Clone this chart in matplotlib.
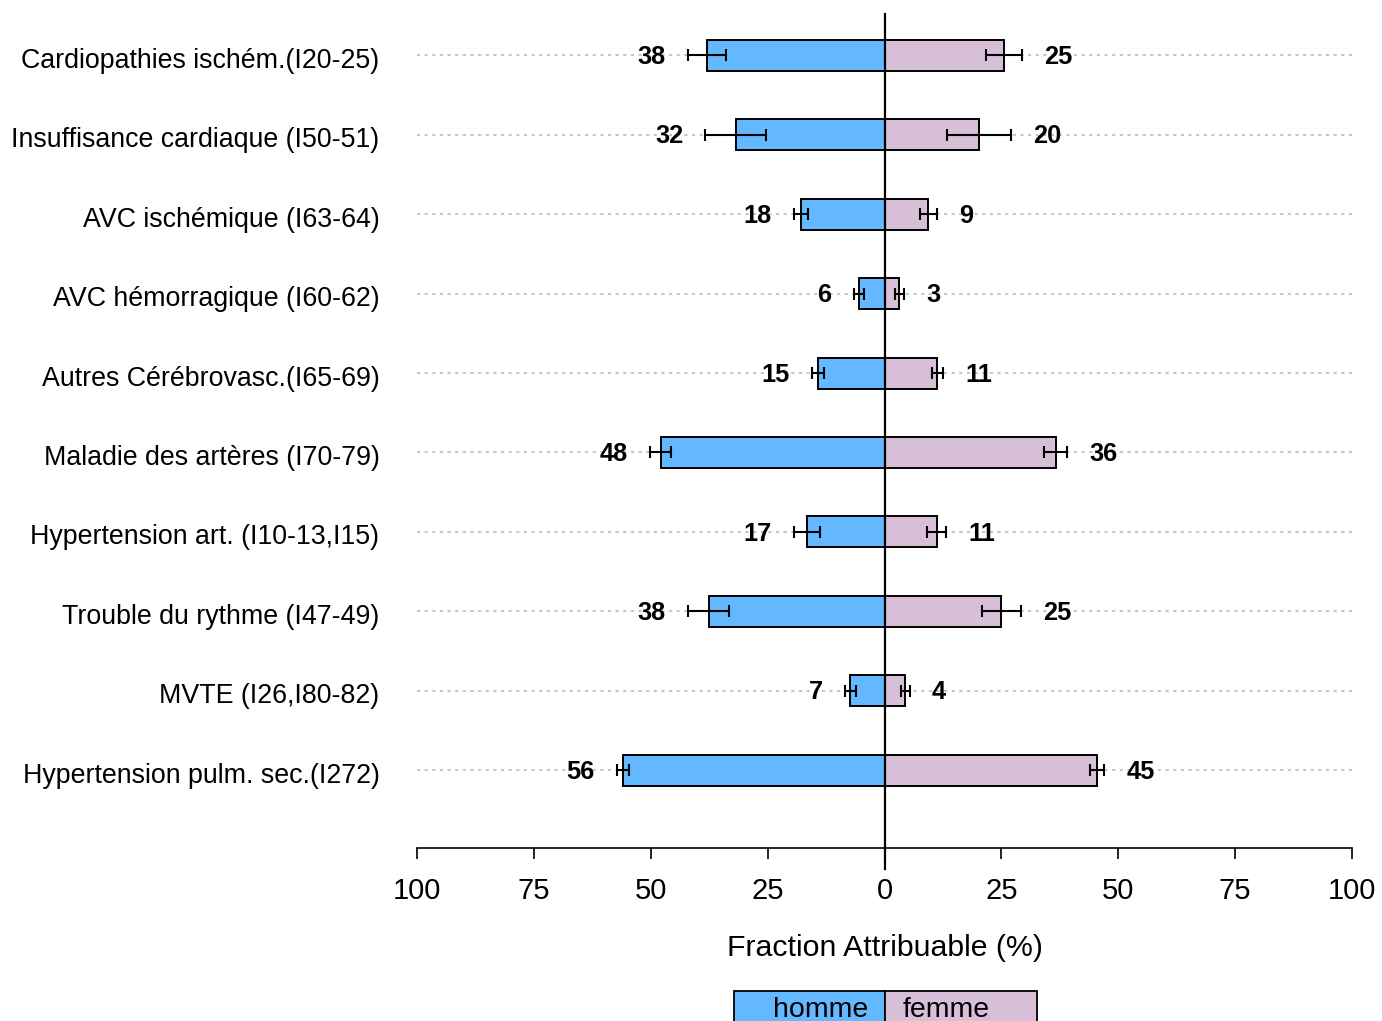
import numpy as np
import matplotlib
matplotlib.use("Agg")
import matplotlib.pyplot as plt
from matplotlib.patches import Rectangle
from matplotlib.transforms import ScaledTranslation

plt.rcParams['font.family'] = ['Liberation Sans', 'DejaVu Sans']

categories = ["Cardiopathies ischém.(I20-25)",
              "Insuffisance cardiaque (I50-51)",
              "AVC ischémique (I63-64)",
              "AVC hémorragique (I60-62)",
              "Autres Cérébrovasc.(I65-69)",
              "Maladie des artères (I70-79)",
              "Hypertension art. (I10-13,I15)",
              "Trouble du rythme (I47-49)",
              "MVTE (I26,I80-82)",
              "Hypertension pulm. sec.(I272)"]

homme = [38.0, 31.8, 17.9, 5.5, 14.3, 47.9, 16.6, 37.6, 7.3, 55.9]
homme_err = [4.1, 6.5, 1.5, 1.1, 1.3, 2.3, 2.7, 4.4, 1.15, 1.3]
homme_lab = [38, 32, 18, 6, 15, 48, 17, 38, 7, 56]

femme = [25.5, 20.2, 9.4, 3.2, 11.3, 36.6, 11.2, 25.0, 4.4, 45.5]
femme_err = [3.85, 6.8, 1.8, 1.0, 1.2, 2.5, 2.05, 4.2, 0.95, 1.45]
femme_lab = [25, 20, 9, 3, 11, 36, 11, 25, 4, 45]

col_h = "#63B8FF"
col_f = "#D8BFD8"

fig = plt.figure(figsize=(13.82, 10.21), dpi=100)
ax = fig.add_axes([417/1382, 173/1021, 935/1382, 834/1021])

y = np.arange(len(categories))

for yy in y:
    ax.plot([-100, 100], [yy, yy], linestyle=(0, (2, 3)), color="#b4b4b4", lw=1.1, zorder=0)

ax.barh(y, [-v for v in homme], height=0.39, color=col_h, edgecolor="black", lw=1.4, zorder=2)
ax.barh(y, femme, height=0.39, color=col_f, edgecolor="black", lw=1.4, zorder=2)
ax.errorbar([-v for v in homme], y, xerr=homme_err, fmt="none", ecolor="black",
            elinewidth=1.5, capsize=4.3, capthick=1.5, zorder=3)
ax.errorbar(femme, y, xerr=femme_err, fmt="none", ecolor="black",
            elinewidth=1.5, capsize=4.3, capthick=1.5, zorder=3)

for i in y:
    ax.annotate(str(homme_lab[i]), (-(homme[i] + homme_err[i]), i), xytext=(-16, -1.2),
                textcoords="offset points", ha="right", va="center",
                fontsize=18.3, fontweight="bold")
    ax.annotate(str(femme_lab[i]), (femme[i] + femme_err[i], i), xytext=(16, -1.2),
                textcoords="offset points", ha="left", va="center",
                fontsize=18.3, fontweight="bold")

ax.axvline(0, ymin=-0.025, ymax=1, color="black", lw=1.6, clip_on=False, zorder=4)

ax.set_xlim(-100, 100)
ax.set_ylim(len(categories) - 1 + 0.98, -0.52)
ax.set_xticks(np.arange(-100, 101, 25))
ax.set_xticklabels([str(abs(t)) for t in range(-100, 101, 25)])
ax.set_yticks(y)
ax.set_yticklabels(categories)

for s in ["top", "right", "left"]:
    ax.spines[s].set_visible(False)
ax.spines["bottom"].set_linewidth(1.2)
ax.tick_params(axis="x", direction="out", length=8, width=1.2, pad=13, labelsize=21)
ax.tick_params(axis="y", length=0, pad=27, labelsize=19.3)

# libelles un peu plus bas, comme dans l'original
decal = ScaledTranslation(0, -2.5/100, fig.dpi_scale_trans)
for lab in ax.get_yticklabels():
    lab.set_transform(lab.get_transform() + decal)

ax.set_xlabel("Fraction Attribuable (%)", fontsize=21.8, labelpad=21)

# legende en bas
for x0, w, c, lab, tx in [(734, 151, col_h, "homme", 821), (885, 152, col_f, "femme", 946)]:
    fig.patches.append(Rectangle((x0/1382, -0.01), w/1382, (1021-991)/1021 + 0.01,
                                 transform=fig.transFigure, facecolor=c,
                                 edgecolor="black", lw=1.3))
    fig.text(tx/1382, 1 - 1010/1021, lab, ha="center", va="center", fontsize=20.5)

fig.savefig("out.png", dpi=100)
